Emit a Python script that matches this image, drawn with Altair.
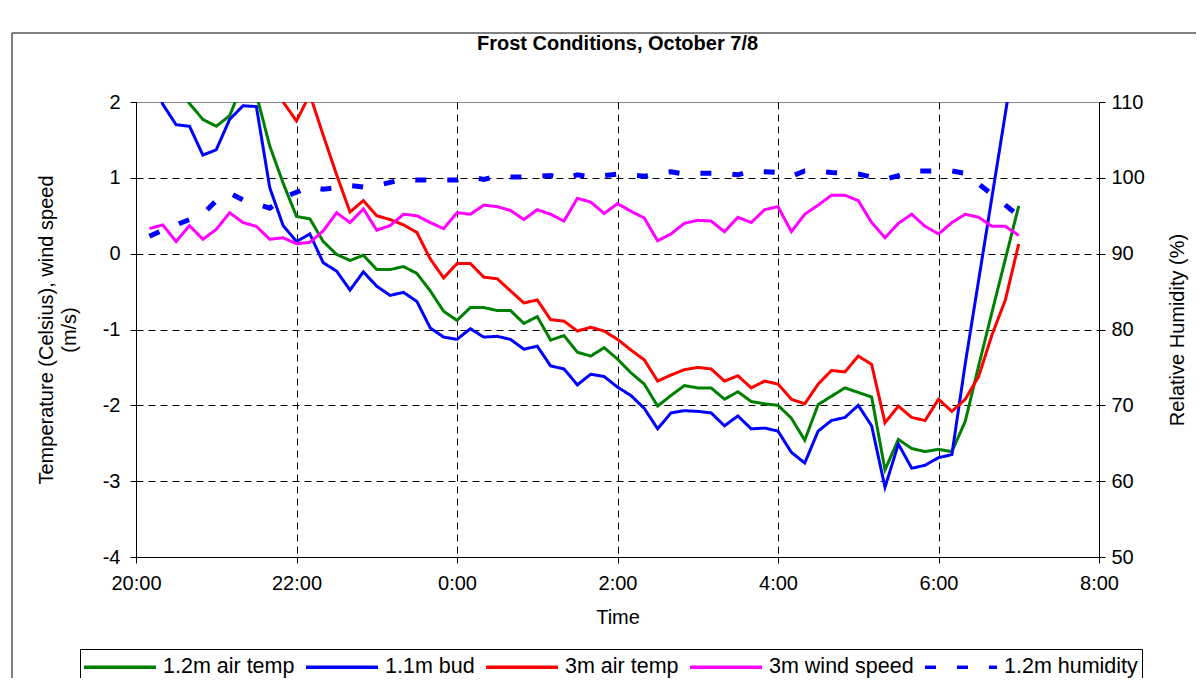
import altair as alt
import pandas as pd

# ---- data (10-minute readings, 20:10 .. 07:00) ----
hours = [20 + (i + 1) / 6 for i in range(66)]

air_12m = [2.6, 2.4, 2.2, 1.98, 1.77, 1.68, 1.82, 2.25, 2.1, 1.42,
           0.93, 0.49, 0.46, 0.16, -0.01, -0.09, -0.02, -0.21, -0.21, -0.17,
           -0.26, -0.49, -0.76, -0.88, -0.71, -0.71, -0.75, -0.75, -0.92, -0.83,
           -1.14, -1.08, -1.30, -1.35, -1.24, -1.39, -1.57, -1.72, -2.01, -1.87,
           -1.74, -1.77, -1.77, -1.92, -1.82, -1.95, -1.98, -2.00, -2.17, -2.46,
           -1.99, -1.88, -1.77, -1.83, -1.89, -2.85, -2.45, -2.57, -2.61, -2.58,
           -2.61, -2.21, -1.48, -0.77, -0.07, 0.63]

bud_11m = [2.5, 1.97, 1.70, 1.68, 1.30, 1.37, 1.77, 1.95, 1.94, 0.87,
           0.37, 0.16, 0.26, -0.12, -0.23, -0.48, -0.24, -0.43, -0.55, -0.51,
           -0.63, -0.98, -1.10, -1.13, -0.99, -1.10, -1.09, -1.13, -1.26, -1.22,
           -1.48, -1.52, -1.73, -1.59, -1.62, -1.76, -1.87, -2.04, -2.31, -2.10,
           -2.07, -2.08, -2.10, -2.27, -2.14, -2.31, -2.30, -2.34, -2.62, -2.76,
           -2.34, -2.20, -2.16, -2.00, -2.27, -3.08, -2.51, -2.83, -2.79, -2.69,
           -2.65, -1.45, -0.35, 0.75, 1.85, 2.95]

air_3m = [2.9, 3.0, 3.1, 3.1, 3.0, 2.9, 2.8, 2.7, 2.5, 2.3,
          2.0, 1.75, 2.10, 1.56, 1.04, 0.55, 0.70, 0.50, 0.45, 0.38,
          0.28, -0.07, -0.32, -0.13, -0.13, -0.31, -0.33, -0.49, -0.65, -0.61,
          -0.87, -0.89, -1.02, -0.97, -1.02, -1.13, -1.27, -1.40, -1.68, -1.60,
          -1.53, -1.50, -1.52, -1.68, -1.61, -1.77, -1.68, -1.72, -1.92, -1.98,
          -1.72, -1.54, -1.56, -1.35, -1.46, -2.23, -2.01, -2.16, -2.20, -1.92,
          -2.08, -1.92, -1.62, -1.07, -0.61, 0.13]

wind_3m = [0.33, 0.38, 0.16, 0.37, 0.19, 0.32, 0.54, 0.41, 0.36, 0.19,
           0.21, 0.13, 0.15, 0.30, 0.54, 0.41, 0.59, 0.31, 0.37, 0.52,
           0.50, 0.41, 0.33, 0.54, 0.52, 0.64, 0.62, 0.57, 0.45, 0.58,
           0.52, 0.43, 0.73, 0.68, 0.53, 0.66, 0.56, 0.47, 0.17, 0.26,
           0.40, 0.44, 0.43, 0.29, 0.48, 0.41, 0.58, 0.62, 0.29, 0.52,
           0.64, 0.77, 0.77, 0.70, 0.41, 0.21, 0.40, 0.52, 0.36, 0.26,
           0.41, 0.52, 0.48, 0.36, 0.36, 0.24]

humidity_12m = [92.3, 93.1, 93.8, 94.5, 95.2, 97.0, 98.0, 97.1, 96.6, 96.0,
                97.4, 98.1, 98.8, 98.5, 98.7, 99.0, 98.8, 99.0, 99.4, 99.8,
                99.7, 99.7, 99.7, 99.7, 100.1, 99.8, 100.2, 100.1, 100.1, 100.2,
                100.3, 99.9, 100.4, 100.1, 100.3, 100.5, 100.4, 100.2, 100.6, 100.8,
                100.5, 100.6, 100.6, 100.6, 100.4, 100.9, 100.8, 100.7, 100.2, 100.9,
                100.9, 100.7, 100.6, 100.5, 100.1, 99.8, 100.3, 100.9, 100.9, 100.9,
                100.9, 100.6, 99.2, 97.8, 96.4, 95.0]

series_names = ["1.2m air temp", "1.1m bud", "3m air temp", "3m wind speed", "1.2m humidity"]
series_colors = ["#008000", "#0000FF", "#FF0000", "#FF00FF", "#0000FF"]
series_dash = [[1, 0], [1, 0], [1, 0], [1, 0], [11, 21]]

x_ticks = [20, 22, 24, 26, 28, 30, 32]
left_ticks = [-4, -3, -2, -1, 0, 1, 2]
right_ticks = [50, 60, 70, 80, 90, 100, 110]

FONT = "Liberation Sans"

temp_rows = []
for name, vals in zip(series_names[:4], [air_12m, bud_11m, air_3m, wind_3m]):
    for h, v in zip(hours, vals):
        temp_rows.append({"hour": h, "value": v, "series": name})
temp_df = pd.DataFrame(temp_rows)
hum_df = pd.DataFrame({"hour": hours, "humidity": humidity_12m, "series": series_names[4]})

W, H = 963, 455

legend = alt.Legend(
    title=None, orient="none", legendX=-56, legendY=547,
    direction="horizontal", columns=5, columnPadding=4,
    symbolType="M-3,0H3", symbolSize=576, symbolStrokeWidth=3.5,
    symbolOffset=22, labelOffset=29,
    labelFont=FONT, labelFontSize=21.5, labelColor="black", labelLimit=0,
    strokeColor="black", fillColor="white", padding=4,
)

color = alt.Color("series:N", scale=alt.Scale(domain=series_names, range=series_colors), legend=legend)
dash = alt.StrokeDash("series:N", scale=alt.Scale(domain=series_names, range=series_dash), legend=legend)

x_enc = alt.X(
    "hour:Q",
    scale=alt.Scale(domain=[20, 32], nice=False, zero=False),
    axis=alt.Axis(
        values=x_ticks, labelExpr="(datum.value % 24) + ':00'",
        title="Time", titleX=W / 2, titleY=50,
        grid=True, gridColor="black", gridDash=[7, 5],
        gridOpacity={"condition": {"test": "datum.value === 20 || datum.value === 32", "value": 0}, "value": 1},
        tickSize=6, labelPadding=10, labelFlush=False, labelOverlap=False,
    ),
)

temps = alt.Chart(temp_df).mark_line(strokeWidth=3, clip=True).encode(
    x=x_enc,
    y=alt.Y(
        "value:Q",
        scale=alt.Scale(domain=[-4, 2], nice=False, zero=False),
        axis=alt.Axis(
            values=left_ticks, orient="left", labelExpr="'' + datum.value",
            title=["Temperature (Celsius), wind speed", "(m/s)"],
            titleAngle=270, titleAlign="center", titleBaseline="top",
            titleX=-100, titleY=H / 2, titleLineHeight=23,
            grid=True, gridColor="black", gridDash=[7, 5],
            gridOpacity={"condition": {"test": "datum.value === 2 || datum.value === -4", "value": 0}, "value": 1},
            tickSize=6, labelPadding=10, labelFlush=False, labelOverlap=False,
        ),
    ),
    color=color,
    strokeDash=dash,
    order=alt.Order("hour:Q"),
)

hum = alt.Chart(hum_df).mark_line(strokeWidth=5, clip=True, strokeCap="butt").encode(
    x=x_enc,
    y=alt.Y(
        "humidity:Q",
        scale=alt.Scale(domain=[50, 110], nice=False, zero=False),
        axis=alt.Axis(
            values=right_ticks, orient="right", title="Relative Humidity (%)",
            titleAngle=270, titleAlign="center", titleBaseline="top",
            titleX=68, titleY=H / 2,
            grid=False, tickSize=6, labelPadding=6, labelFlush=False, labelOverlap=False,
        ),
    ),
    color=color,
    strokeDash=dash,
    order=alt.Order("hour:Q"),
)

frame = alt.Data(values=[{}])
border_top = alt.Chart(frame).mark_rule(color="black", strokeWidth=1).encode(
    x=alt.value(-124), x2=alt.value(1070), y=alt.value(-69)
)
border_left = alt.Chart(frame).mark_rule(color="black", strokeWidth=1).encode(
    x=alt.value(-124), y=alt.value(-69), y2=alt.value(600)
)

chart = alt.layer(temps, hum, border_top, border_left).resolve_scale(
    y="independent"
).properties(
    width=W, height=H,
    autosize=alt.AutoSizeParams(type="none"),
    padding={"left": 128, "top": 94, "right": 97, "bottom": 121},
    title=alt.TitleParams(
        "Frost Conditions, October 7/8", font=FONT, fontSize=20,
        fontWeight="bold", color="black", anchor="middle", offset=0, dy=21,
    ),
    background="white",
).configure_view(
    stroke="#888888", strokeWidth=1
).configure_axis(
    domainColor="black", tickColor="black", labelColor="black", titleColor="black",
    labelFont=FONT, titleFont=FONT, labelFontSize=20, titleFontSize=20,
    titleFontWeight="normal",
)

chart.save("out.html", embed_options={"renderer": "svg", "actions": False})
